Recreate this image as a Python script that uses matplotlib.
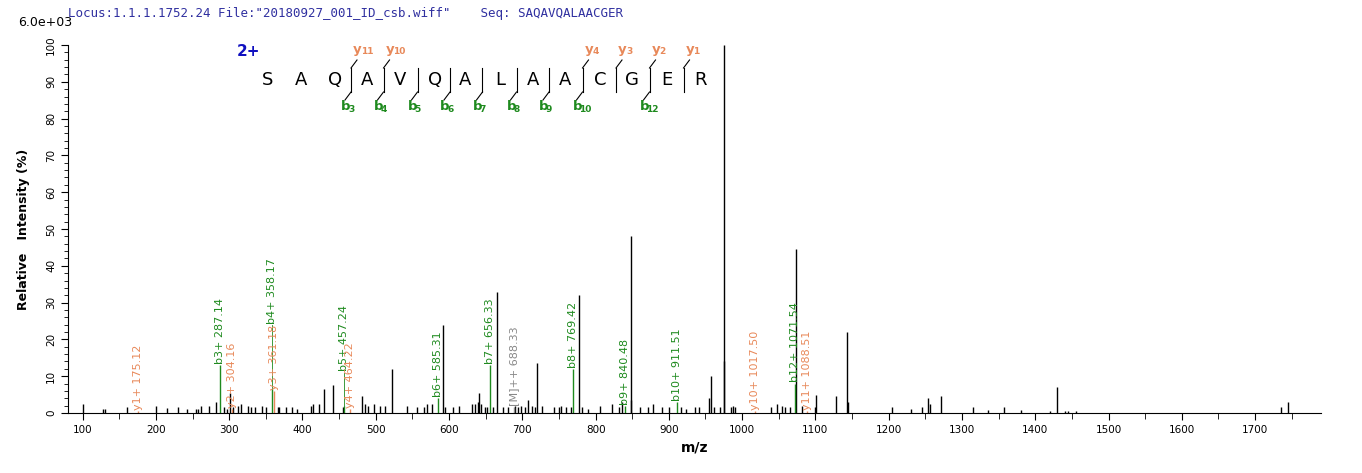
import matplotlib
matplotlib.use("Agg")
import matplotlib.pyplot as plt
import numpy as np

# spectrum peaks (m/z, relative intensity %)
noise_mz = [101, 128, 131, 160, 200, 215, 230, 242, 255, 258, 262, 272, 282, 293, 297, 305, 312, 316,
            326, 330, 335, 345, 350, 366, 368, 377, 386, 392, 412, 414, 423, 430, 441, 455, 481, 485,
            490, 498, 506, 512, 543, 556, 566, 570, 577, 594, 605, 614, 631, 636, 639, 641, 644, 649,
            652, 660, 674, 680, 690, 694, 698, 704, 708, 713, 717, 727, 743, 750, 753, 760, 766, 781,
            789, 806, 822, 832, 836, 848.5, 860, 872, 878, 891, 900, 916, 924, 935, 941, 955, 962, 970,
            985, 987, 990, 1040, 1047, 1055, 1058, 1065, 1082, 1100, 1145, 1205, 1230, 1245, 1256, 1315,
            1335, 1357, 1380, 1420, 1440, 1445, 1455, 1735]
noise_int = [2.5, 1, 1.2, 1.5, 2, 1.3, 1.5, 1.2, 1.2, 1.2, 2, 2, 3, 1.5, 1.2, 1.5, 2, 2.5,
             2, 1.5, 1.5, 2, 1.5, 1.5, 1.5, 1.5, 1.5, 1.2, 2, 2.5, 2.5, 6.5, 7.5, 1.5, 4.5, 2.5,
             2, 2.5, 2, 2, 2, 1.5, 1.5, 2.5, 2.5, 1.5, 1.5, 2, 2.5, 2.5, 3, 5.5, 2.5, 1.5,
             1.5, 1.5, 1.5, 1.5, 2, 1.5, 2, 1.5, 3.5, 2, 1.5, 2, 1.5, 1.5, 2, 1.5, 1.5, 1.5,
             1, 2, 2.5, 1.5, 3, 3.5, 1.5, 1.5, 2.5, 1.5, 1.5, 1.5, 1, 1.5, 1.5, 4, 1.5, 1.5,
             1.5, 2, 1.5, 1.5, 2.5, 2, 1.5, 1.5, 2, 1.5, 3, 1.5, 1, 1.5, 2.5, 1.5,
             0.7, 1.5, 0.7, 0.5, 0.5, 0.5, 0.5, 1.5]
main_mz = [300.5, 522, 592, 666, 720, 778, 848, 957, 975, 975.7, 1073, 1100.5, 1128, 1143, 1254,
           1272, 1430, 1745]
main_int = [5.5, 12, 24, 33, 13.5, 32, 48, 10, 100, 14, 44.5, 5, 4.5, 22, 4, 4.5, 7, 3]

# annotated fragment ions
ion_labels = ["y1+ 175.12", "b3+ 287.14", "y2+ 304.16", "b4+ 358.17", "y3+ 361.18", "b5+ 457.24",
              "y4+ 464.22", "b6+ 585.31", "b7+ 656.33", "[M]++ 688.33", "b8+ 769.42", "b9+ 840.48",
              "b10+ 911.51", "y10+ 1017.50", "b12+ 1071.54", "y11+ 1088.51"]
ion_mz = [175.12, 287.14, 304.16, 358.17, 361.18, 457.24, 464.22, 585.31, 656.33, 688.33, 769.42,
          840.48, 911.51, 1017.50, 1071.54, 1088.51]
ion_int = [0.5, 13, 1, 6.5, 6, 2, 1, 4, 13, 1.5, 12, 2, 3, 0.5, 8, 0.5]
# height where the label starts (lifted above a neighbour for b4 and b5)
ion_label_y = [0.5, 13, 1, 24, 6, 11, 1, 4, 13, 1.5, 12, 2, 3, 0.5, 8, 0.5]
ion_type = ["y", "b", "y", "b", "y", "b", "y", "b", "b", "m", "b", "b", "b", "y", "b", "y"]

sequence = "SAQAVQALAACGER"
y_cuts = {3: "11", 4: "10", 10: "4", 11: "3", 12: "2", 13: "1"}
b_cuts = {3: "3", 4: "4", 5: "5", 6: "6", 7: "7", 8: "8", 9: "9", 10: "10", 12: "12"}

colors = {"y": "#e8895a", "b": "#1e8a1e", "m": "#888888"}

fig = plt.figure(figsize=(13.62, 4.73), dpi=100)
W, H = 1362, 473
ax = fig.add_axes([68 / W, 60 / H, (1321 - 68) / W, (413 - 45) / H])

ax.vlines(noise_mz, 0, noise_int, color="black", lw=1)
ax.vlines(main_mz, 0, main_int, color="black", lw=1)
for lab, mz, it, ly, t in zip(ion_labels, ion_mz, ion_int, ion_label_y, ion_type):
    c = colors[t]
    ax.vlines(mz, 0, it, color=c, lw=1)
    if ly > it:
        ax.plot([mz, mz], [it, ly], color=c, lw=0.6)
    ax.text(mz, max(ly, it) + 0.3, lab, rotation=90, color=c, fontsize=8, ha="center", va="bottom")

ax.set_xlim(80, 1790)
ax.set_ylim(0, 100)
for s in ["top", "right"]:
    ax.spines[s].set_visible(False)
ax.set_xticks(np.arange(100, 1800, 100))
ax.set_xticks(np.arange(100, 1800, 50), minor=True)
ax.set_yticks(np.arange(0, 101, 10))
ax.set_yticks(np.arange(0, 101, 2), minor=True)
ax.tick_params(axis="x", labelsize=7.5, direction="out", length=5)
ax.tick_params(axis="x", which="minor", length=4)
ax.tick_params(axis="y", labelsize=7.5, labelrotation=90, length=5)
ax.tick_params(axis="y", which="minor", length=3)
for t in ax.get_yticklabels():
    t.set_va("center")
ax.set_xlabel("m/z", fontsize=10, fontweight="bold")
ax.set_ylabel("Relative   Intensity (%)", fontsize=9, fontweight="bold", labelpad=12)

fig.text(18 / W, 1 - 22 / H, "6.0e+03", fontsize=9, va="center")
fig.text(68 / W, 1 - 14 / H, 'Locus:1.1.1.1752.24 File:"20180927_001_ID_csb.wiff"    Seq: SAQAVQALAACGER',
         fontsize=9, family="DejaVu Sans Mono", color="#3030a0", va="center")

# peptide sequence annotation
letter_x = [268, 301, 335, 367, 400, 435, 465, 500, 533, 565, 600, 632, 667, 700]
fig.text(237 / W, 1 - 51 / H, "2+", fontsize=11, fontweight="bold", color="#1010c0", va="center")
for ch, x in zip(sequence, letter_x):
    fig.text(x / W, 1 - 80 / H, ch, fontsize=13, ha="center", va="center")
for i in range(3, 14):
    xs = (letter_x[i - 1] + letter_x[i]) / 2
    fig.add_artist(plt.Line2D([xs / W] * 2, [1 - 92 / H, 1 - 68 / H], color="black", lw=0.8))
    if i in y_cuts:
        fig.add_artist(plt.Line2D([xs / W, (xs + 6) / W], [1 - 68 / H, 1 - 60 / H], color="black", lw=0.8))
        fig.text((xs + 2) / W, 1 - 50 / H, "y", fontsize=9.5, fontweight="bold", color=colors["y"], va="center")
        fig.text((xs + 10) / W, 1 - 51 / H, y_cuts[i], fontsize=6.5, fontweight="bold", color=colors["y"], va="center")
    if i in b_cuts:
        fig.add_artist(plt.Line2D([xs / W, (xs - 6) / W], [1 - 92 / H, 1 - 100 / H], color="black", lw=0.8))
        fig.text((xs - 10) / W, 1 - 107 / H, "b", fontsize=9.5, fontweight="bold", color=colors["b"], va="center")
        fig.text((xs - 3) / W, 1 - 109 / H, b_cuts[i], fontsize=6.5, fontweight="bold", color=colors["b"], va="center")

fig.savefig("out.png", dpi=100)
